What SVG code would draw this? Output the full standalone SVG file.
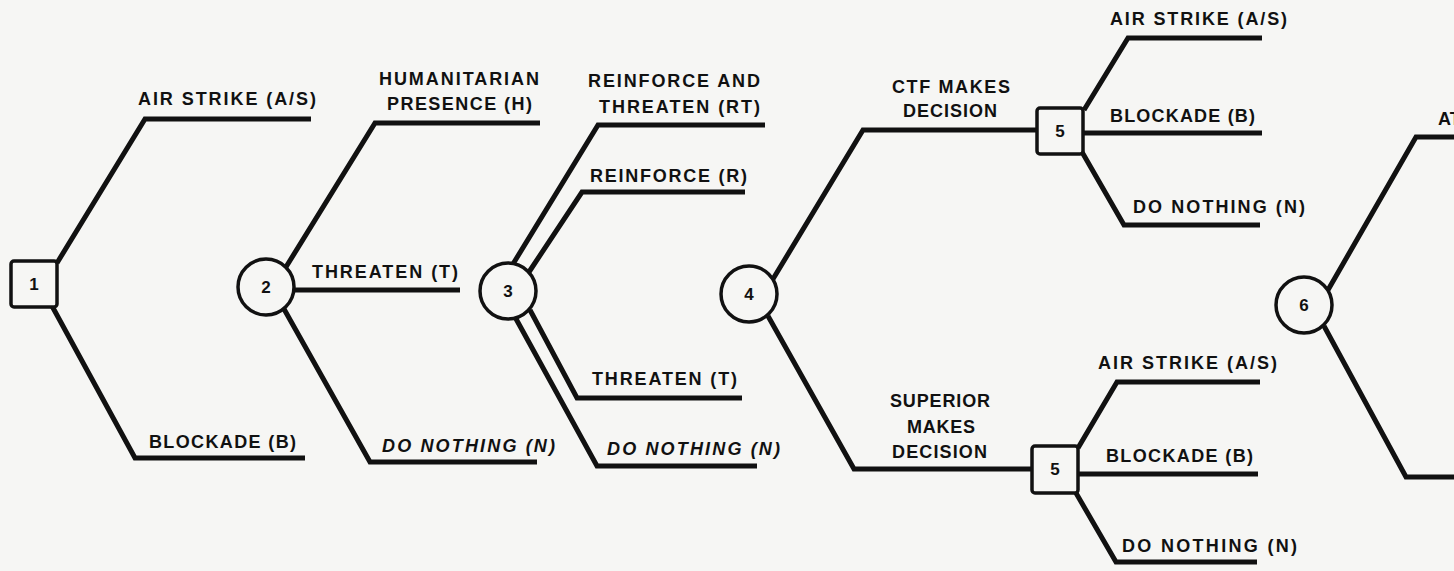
<svg xmlns="http://www.w3.org/2000/svg" width="1454" height="571" viewBox="0 0 1454 571">
<style>
.bg{fill:#f6f6f4}
.ln{fill:none;stroke:#111;stroke-width:5;stroke-linejoin:miter;stroke-linecap:butt}
.nd{fill:#f6f6f4;stroke:#111;stroke-width:3.5}
.lb{font-family:"Liberation Sans",Arial,sans-serif;font-weight:bold;font-size:18px;fill:#111}
.it{font-style:italic}
.num{font-family:"Liberation Sans",Arial,sans-serif;font-weight:bold;font-size:17px;fill:#111;text-anchor:middle}
</style>
<rect class="bg" x="0" y="0" width="1454" height="571"/>
<g id="connectors">
<path class="ln" d="M57,263 L145,119 L311,119"/>
<path class="ln" d="M52,306 L135,458 L305,458"/>
<path class="ln" d="M286,267 L375,123 L540,123"/>
<path class="ln" d="M294,290 L460,290"/>
<path class="ln" d="M284,309 L370,462 L537,462"/>
<path class="ln" d="M513,264 L598,125 L765,125"/>
<path class="ln" d="M529,272 L582,192 L745,192"/>
<path class="ln" d="M530,310 L577,398 L742,398"/>
<path class="ln" d="M515,317 L597,466 L757,466"/>
<path class="ln" d="M773,279 L863,130 L1037,130"/>
<path class="ln" d="M768,316 L854,469 L1032,469"/>
<path class="ln" d="M1084,110 L1128,38 L1262,38"/>
<path class="ln" d="M1083,133 L1262,133"/>
<path class="ln" d="M1082,152 L1124,225 L1260,225"/>
<path class="ln" d="M1078,448 L1117,382 L1260,382"/>
<path class="ln" d="M1078,474 L1258,474"/>
<path class="ln" d="M1076,493 L1116,562 L1257,562"/>
<path class="ln" d="M1328,290 L1416,137 L1454,137"/>
<path class="ln" d="M1324,326 L1406,477 L1454,477"/>
</g>
<g id="labels">
<text class="lb" x="138" y="105" textLength="178" lengthAdjust="spacing">AIR STRIKE (A/S)</text>
<text class="lb" x="149" y="448" textLength="147" lengthAdjust="spacing">BLOCKADE (B)</text>
<text class="lb" x="379" y="85" textLength="160" lengthAdjust="spacing">HUMANITARIAN</text>
<text class="lb" x="387" y="110" textLength="145" lengthAdjust="spacing">PRESENCE (H)</text>
<text class="lb" x="312" y="278" textLength="146" lengthAdjust="spacing">THREATEN (T)</text>
<text class="lb it" x="382" y="452" textLength="173" lengthAdjust="spacing">DO NOTHING (N)</text>
<text class="lb" x="588" y="87" textLength="172" lengthAdjust="spacing">REINFORCE AND</text>
<text class="lb" x="599" y="113" textLength="161" lengthAdjust="spacing">THREATEN (RT)</text>
<text class="lb" x="590" y="182" textLength="157" lengthAdjust="spacing">REINFORCE (R)</text>
<text class="lb" x="592" y="385" textLength="145" lengthAdjust="spacing">THREATEN (T)</text>
<text class="lb it" x="607" y="455" textLength="173" lengthAdjust="spacing">DO NOTHING (N)</text>
<text class="lb" x="892" y="93" textLength="118" lengthAdjust="spacing">CTF MAKES</text>
<text class="lb" x="903" y="117" textLength="94" lengthAdjust="spacing">DECISION</text>
<text class="lb" x="890" y="407" textLength="100" lengthAdjust="spacing">SUPERIOR</text>
<text class="lb" x="907" y="433" textLength="68" lengthAdjust="spacing">MAKES</text>
<text class="lb" x="892" y="458" textLength="95" lengthAdjust="spacing">DECISION</text>
<text class="lb" x="1110" y="25" textLength="177" lengthAdjust="spacing">AIR STRIKE (A/S)</text>
<text class="lb" x="1110" y="122" textLength="145" lengthAdjust="spacing">BLOCKADE (B)</text>
<text class="lb" x="1133" y="213" textLength="172" lengthAdjust="spacing">DO NOTHING (N)</text>
<text class="lb" x="1098" y="369" textLength="179" lengthAdjust="spacing">AIR STRIKE (A/S)</text>
<text class="lb" x="1106" y="462" textLength="147" lengthAdjust="spacing">BLOCKADE (B)</text>
<text class="lb" x="1122" y="552" textLength="175" lengthAdjust="spacing">DO NOTHING (N)</text>
<text class="lb" x="1438" y="125">AT</text>
</g>
<g id="node1"><rect class="nd" x="11" y="261" width="46" height="46" rx="3"/><text class="num" x="34" y="290">1</text></g>
<g id="node2"><circle class="nd" cx="266" cy="287" r="28"/><text class="num" x="266" y="293">2</text></g>
<g id="node3"><circle class="nd" cx="508" cy="291" r="28"/><text class="num" x="508" y="297">3</text></g>
<g id="node4"><circle class="nd" cx="749" cy="294" r="28"/><text class="num" x="749" y="300">4</text></g>
<g id="node5a"><rect class="nd" x="1037" y="108" width="46" height="46" rx="3"/><text class="num" x="1060" y="137">5</text></g>
<g id="node5b"><rect class="nd" x="1032" y="446" width="46" height="47" rx="3"/><text class="num" x="1055" y="475">5</text></g>
<g id="node6"><circle class="nd" cx="1304" cy="305" r="28"/><text class="num" x="1304" y="311">6</text></g>
</svg>
